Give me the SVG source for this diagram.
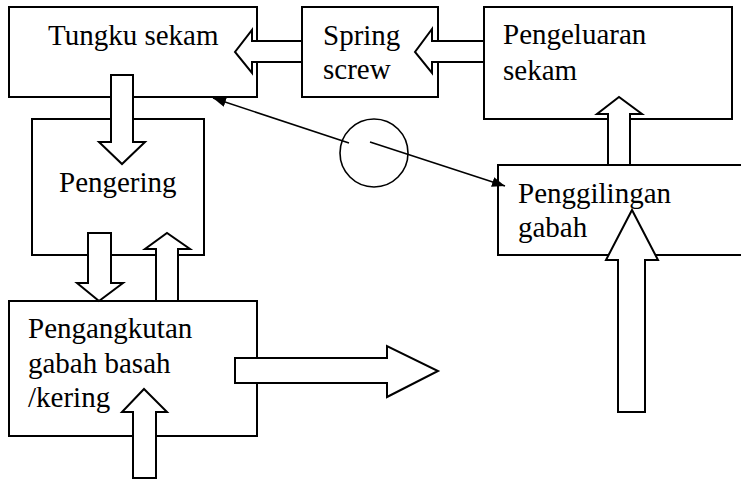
<svg xmlns="http://www.w3.org/2000/svg" width="741" height="480" viewBox="0 0 741 480" font-family="Liberation Serif, Times New Roman, Times, serif">
  <style>
    .box { fill: #ffffff; stroke: #000000; stroke-width: 2; }
    .flow { fill: #ffffff; stroke: #000000; stroke-width: 2; stroke-linejoin: miter; }
    .link { fill: none; stroke: #000000; stroke-width: 1.6; }
    text { font-family: Liberation Serif, Times New Roman, Times, serif; font-size: 29px; fill: #000000; }
  </style>
  <defs>
    <marker id="tip" markerUnits="userSpaceOnUse" markerWidth="14" markerHeight="10" refX="13" refY="5" orient="auto">
      <path d="M0,0 L13,5 L0,10 z" fill="#000000"/>
    </marker>
  </defs>

  <rect width="741" height="480" fill="#ffffff"/>

  <!-- process boxes -->
  <g id="tungku-sekam">
    <rect class="box" x="9" y="7" width="248" height="90"/>
    <text x="48" y="45">Tungku sekam</text>
  </g>
  <g id="spring-screw">
    <rect class="box" x="302" y="7" width="136" height="90"/>
    <text x="323" y="45">Spring</text>
    <text x="323" y="79">screw</text>
  </g>
  <g id="pengeluaran-sekam">
    <rect class="box" x="484" y="7" width="248" height="112"/>
    <text x="503" y="44">Pengeluaran</text>
    <text x="503" y="80">sekam</text>
  </g>
  <g id="pengering">
    <rect class="box" x="32" y="119" width="172" height="136"/>
    <text x="59" y="192">Pengering</text>
  </g>
  <g id="penggilingan-gabah">
    <rect class="box" x="498" y="165" width="260" height="90"/>
    <text x="518" y="203">Penggilingan</text>
    <text x="518" y="237">gabah</text>
  </g>
  <g id="pengangkutan">
    <rect class="box" x="9" y="301" width="248" height="135"/>
    <text x="28" y="338">Pengangkutan</text>
    <text x="28" y="373">gabah basah</text>
    <text x="28" y="407">/kering</text>
  </g>

  <!-- connectors -->
  <g id="connectors">
    <!-- block arrows -->
    <polygon class="flow" points="302,41 252,41 252,30 235,52 252,73 252,62 302,62"/>
    <polygon class="flow" points="484,41 432,41 432,29 415,52 432,73 432,62 484,62"/>
    <polygon class="flow" points="111,75 133,75 133,142 145,142 122,164 99,142 111,142"/>
    <polygon class="flow" points="88,233 111,233 111,283 123,283 99,301 77,283 88,283"/>
    <polygon class="flow" points="156,301 156,249 145,249 167,233 190,249 178,249 178,301"/>
    <polygon class="flow" points="608,165 608,114 597,114 619,97 642,114 630,114 630,165"/>
    <polygon class="flow" points="618,412 618,260 606,260 632,210 658,260 645,260 645,412"/>
    <polygon class="flow" points="235,358 387,358 387,346 438,371 387,397 387,383 235,383"/>
    <polygon class="flow" points="133,478 133,412 122,412 144,389 167,412 156,412 156,478"/>

    <!-- thin links through the junction circle -->
    <circle class="link" cx="374" cy="153" r="34"/>
    <line class="link" x1="349" y1="143" x2="213" y2="98" marker-end="url(#tip)"/>
    <line class="link" x1="370" y1="142" x2="505" y2="186" marker-end="url(#tip)"/>
  </g>
</svg>
